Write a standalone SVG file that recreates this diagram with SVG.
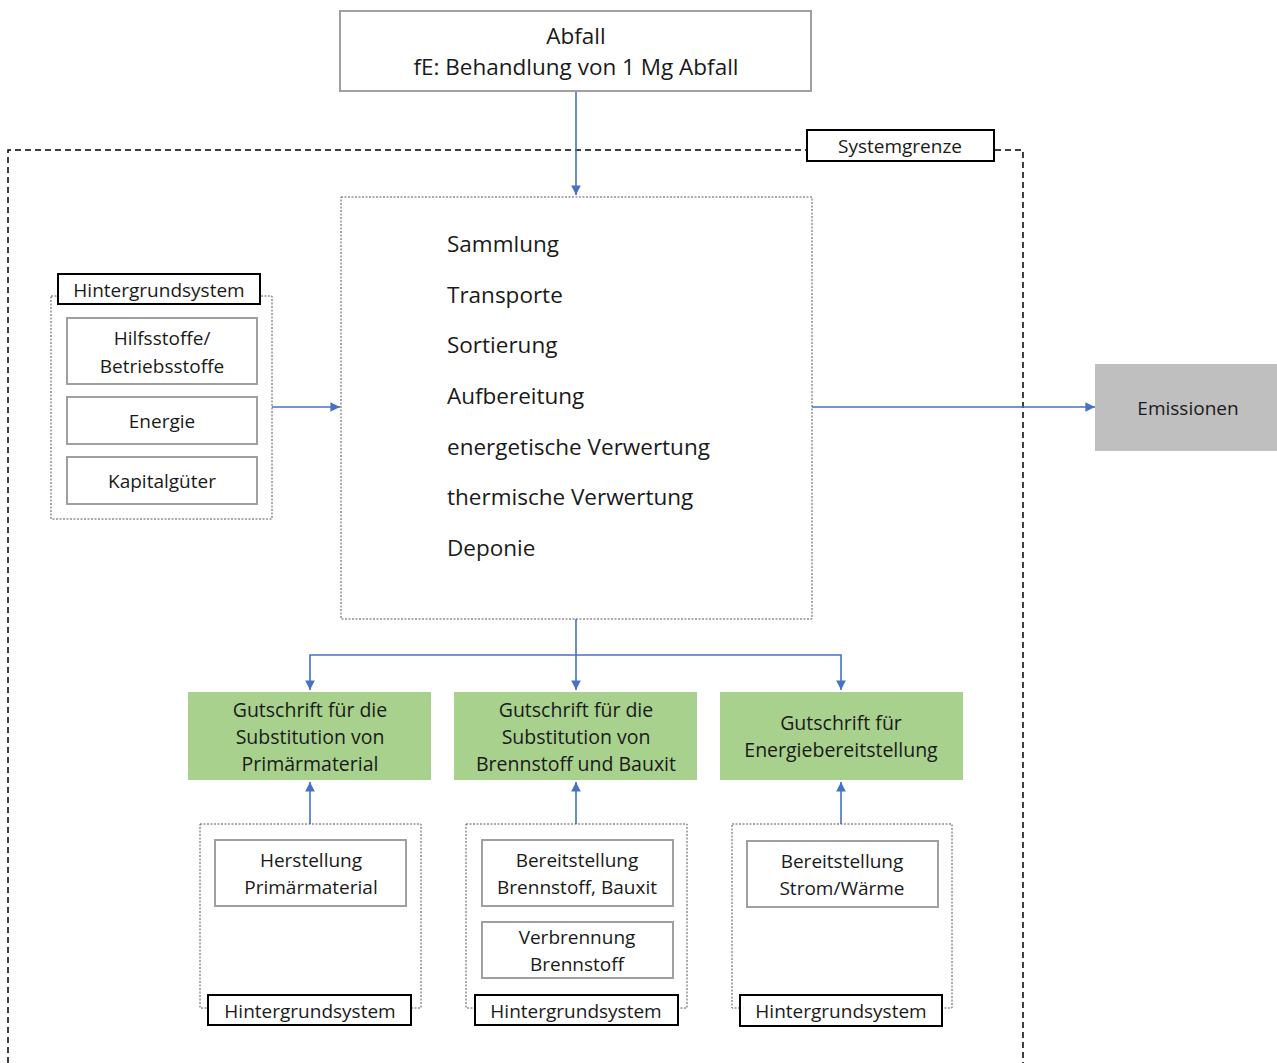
<svg xmlns="http://www.w3.org/2000/svg" width="1277" height="1063" viewBox="0 0 1277 1063">
  <style>
    text { font-family: "Open Sans", "Liberation Sans", sans-serif; fill: #1a1a1a; }
    .c { text-anchor: middle; }
    .big { font-size: 22.5px; }
    .mid { font-size: 19.5px; }
    .sm { font-size: 19px; }
    .box { fill: #ffffff; stroke: #a0a0a0; stroke-width: 2; }
    .label { fill: #ffffff; stroke: #000000; stroke-width: 2; }
    .dotted { fill: none; stroke: #595959; stroke-width: 1; stroke-dasharray: 2 1.5; }
    .green { fill: #a9d18e; }
    .grey { fill: #bfbfbf; }
    .flow { fill: none; stroke: #4472c4; stroke-width: 1.6; }
    .bound { fill: none; stroke: #000000; stroke-width: 1.5; stroke-dasharray: 6 4; }
  </style>
  <defs>
    <marker id="arrow" viewBox="0 0 10 10" refX="10" refY="5" markerWidth="6" markerHeight="6" markerUnits="strokeWidth" orient="auto">
      <path d="M0,0 L10,5 L0,10 Z" fill="#4472c4"/>
    </marker>
  </defs>
  <rect width="1277" height="1063" fill="#ffffff"/>

  <!-- system boundary -->
  <g id="systemgrenze">
    <path class="bound" d="M8,1063 V150 H1023 V1063"/>
    <rect class="label" x="807" y="130" width="187" height="31"/>
    <text class="c sm" x="900" y="153">Systemgrenze</text>
  </g>

  <!-- connectors -->
  <g id="connectors">
    <line class="flow" x1="576" y1="91" x2="576" y2="195" marker-end="url(#arrow)"/>
    <line class="flow" x1="272" y1="407" x2="340" y2="407" marker-end="url(#arrow)"/>
    <line class="flow" x1="812" y1="407" x2="1095" y2="407" marker-end="url(#arrow)"/>
    <line class="flow" x1="576" y1="619" x2="576" y2="690" marker-end="url(#arrow)"/>
    <path class="flow" d="M576,655 H310 V690" marker-end="url(#arrow)"/>
    <path class="flow" d="M576,655 H841 V690" marker-end="url(#arrow)"/>
    <line class="flow" x1="310" y1="824" x2="310" y2="782" marker-end="url(#arrow)"/>
    <line class="flow" x1="576" y1="824" x2="576" y2="782" marker-end="url(#arrow)"/>
    <line class="flow" x1="841" y1="824" x2="841" y2="782" marker-end="url(#arrow)"/>
  </g>

  <g id="abfall">
    <rect class="box" x="340" y="11" width="471" height="80"/>
    <text class="c big" x="576" y="44">Abfall</text>
    <text class="c big" x="576" y="75">fE: Behandlung von 1 Mg Abfall</text>
  </g>

  <g id="prozesse">
    <rect class="dotted" x="341" y="197" width="471" height="422"/>
    <text class="big" x="447" y="252">Sammlung</text>
    <text class="big" x="447" y="303">Transporte</text>
    <text class="big" x="447" y="353">Sortierung</text>
    <text class="big" x="447" y="404">Aufbereitung</text>
    <text class="big" x="447" y="455">energetische Verwertung</text>
    <text class="big" x="447" y="505">thermische Verwertung</text>
    <text class="big" x="447" y="556">Deponie</text>
  </g>

  <g id="hintergrund-links">
    <rect class="dotted" x="51" y="296" width="221" height="223"/>
    <rect class="label" x="58" y="274" width="202" height="30"/>
    <text class="c sm" x="159" y="297">Hintergrundsystem</text>
    <rect class="box" x="67" y="318" width="190" height="66"/>
    <text class="c sm" x="162" y="345">Hilfsstoffe/</text>
    <text class="c sm" x="162" y="373">Betriebsstoffe</text>
    <rect class="box" x="67" y="397" width="190" height="47"/>
    <text class="c sm" x="162" y="428">Energie</text>
    <rect class="box" x="67" y="457" width="190" height="47"/>
    <text class="c sm" x="162" y="488">Kapitalgüter</text>
  </g>

  <g id="emissionen">
    <rect class="grey" x="1095" y="364" width="182" height="87"/>
    <text class="c sm" x="1188" y="415">Emissionen</text>
  </g>

  <g id="gutschrift-primaermaterial">
    <rect class="green" x="188" y="692" width="243" height="88"/>
    <text class="c mid" x="310" y="717">Gutschrift für die</text>
    <text class="c mid" x="310" y="744">Substitution von</text>
    <text class="c mid" x="310" y="771">Primärmaterial</text>
  </g>

  <g id="gutschrift-brennstoff">
    <rect class="green" x="454" y="692" width="243" height="88"/>
    <text class="c mid" x="576" y="717">Gutschrift für die</text>
    <text class="c mid" x="576" y="744">Substitution von</text>
    <text class="c mid" x="576" y="771">Brennstoff und Bauxit</text>
  </g>

  <g id="gutschrift-energie">
    <rect class="green" x="720" y="692" width="243" height="88"/>
    <text class="c mid" x="841" y="730">Gutschrift für</text>
    <text class="c mid" x="841" y="757">Energiebereitstellung</text>
  </g>

  <g id="hintergrund-primaermaterial">
    <rect class="dotted" x="200" y="824" width="221" height="184"/>
    <rect class="box" x="215" y="840" width="191" height="66"/>
    <text class="c sm" x="311" y="867">Herstellung</text>
    <text class="c sm" x="311" y="894">Primärmaterial</text>
    <rect class="label" x="208" y="995" width="203" height="30"/>
    <text class="c sm" x="310" y="1018">Hintergrundsystem</text>
  </g>

  <g id="hintergrund-brennstoff">
    <rect class="dotted" x="466" y="824" width="221" height="184"/>
    <rect class="box" x="482" y="840" width="191" height="66"/>
    <text class="c sm" x="577" y="867">Bereitstellung</text>
    <text class="c sm" x="577" y="894">Brennstoff, Bauxit</text>
    <rect class="box" x="482" y="922" width="191" height="56"/>
    <text class="c sm" x="577" y="944">Verbrennung</text>
    <text class="c sm" x="577" y="971">Brennstoff</text>
    <rect class="label" x="475" y="995" width="203" height="30"/>
    <text class="c sm" x="576" y="1018">Hintergrundsystem</text>
  </g>

  <g id="hintergrund-energie">
    <rect class="dotted" x="732" y="824" width="220" height="184"/>
    <rect class="box" x="747" y="841" width="191" height="66"/>
    <text class="c sm" x="842" y="868">Bereitstellung</text>
    <text class="c sm" x="842" y="895">Strom/Wärme</text>
    <rect class="label" x="740" y="995" width="202" height="31"/>
    <text class="c sm" x="841" y="1018">Hintergrundsystem</text>
  </g>
</svg>
